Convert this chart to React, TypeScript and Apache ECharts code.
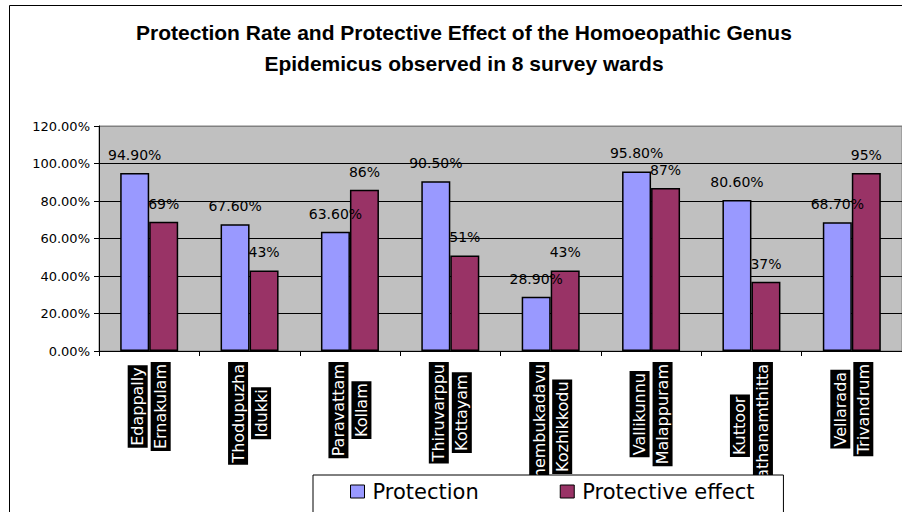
import React, { useEffect, useRef } from "react";
import * as echarts from "echarts";

const wards = ["Edappally", "Thodupuzha", "Paravattam", "Thiruvarppu", "Chembukadavu", "Vallikunnu", "Kuttoor", "Vellarada"];
const districts = ["Ernakulam", "Idukki", "Kollam", "Kottayam", "Kozhikkodu", "Malappuram", "Pathanamthitta", "Trivandrum"];
const protection = [94.9, 67.6, 63.6, 90.5, 28.9, 95.8, 80.6, 68.7];
const protectiveEffect = [69, 43, 86, 51, 43, 87, 37, 95];
const seriesNames = ["Protection", "Protective effect"];
const titleLines = [
  "Protection Rate and Protective Effect of the Homoeopathic Genus",
  "Epidemicus observed in 8 survey wards",
];
const yMin = 0;
const yMax = 120;
const yStep = 20;

export default function App() {
  const ref = useRef<HTMLDivElement>(null);
  useEffect(() => {
    if (!ref.current) return;
    const chart = echarts.init(ref.current, null, { renderer: "svg" });
    const categories = wards.map((w, i) => `${w}\n${districts[i]}`);
    const labelFont = "DejaVu Sans";
    chart.setOption({
      animation: false,
      backgroundColor: "#fff",
      title: {
        text: titleLines.join("\n"),
        left: 459,
        top: 12,
        textAlign: "center",
        textStyle: {
          fontFamily: "Liberation Sans",
          fontWeight: "bold",
          fontSize: 21,
          lineHeight: 31,
          color: "#000",
        },
      },
      graphic: [
        {
          type: "rect",
          shape: { x: 9.5, y: 5.5, width: 1200, height: 1200 },
          style: { fill: "none", stroke: "#000", lineWidth: 1 },
          z: -1,
          silent: true,
        },
      ],
      legend: {
        left: 313,
        top: 475,
        padding: [6, 29, 24, 37],
        itemGap: 81,
        itemWidth: 14,
        itemHeight: 13,
        backgroundColor: "#fff",
        borderColor: "#000",
        borderWidth: 1,
        borderRadius: 0,
        z: 10,
        itemStyle: { borderColor: "#000", borderWidth: 1 },
        textStyle: {
          fontFamily: labelFont,
          fontSize: 21,
          color: "#000",
          padding: [0, 0, 0, 3],
        },
        data: seriesNames.map((n) => ({ name: n, icon: "rect" })),
      },
      grid: {
        left: 99,
        top: 126,
        right: -2,
        bottom: 161,
        show: true,
        backgroundColor: "#C0C0C0",
        borderColor: "#808080",
        borderWidth: 1,
        containLabel: false,
      },
      xAxis: {
        type: "category",
        data: categories,
        boundaryGap: true,
        axisLine: { show: true, lineStyle: { color: "#000", width: 1 } },
        axisTick: { show: true, alignWithLabel: false, length: 5, lineStyle: { color: "#000" } },
        axisLabel: {
          interval: 0,
          rotate: 90,
          margin: 11,
          formatter: (v: string) =>
            v
              .split("\n")
              .map((s) => `{l|${s}}`)
              .join("\n"),
          rich: {
            l: {
              fontFamily: labelFont,
              fontSize: 16,
              color: "#fff",
              backgroundColor: "#000",
              height: 20,
              lineHeight: 23,
              padding: [0, 2],
              align: "center",
            },
          },
        },
      },
      yAxis: {
        type: "value",
        min: yMin,
        max: yMax,
        interval: yStep,
        axisLine: { show: true, lineStyle: { color: "#000", width: 1 } },
        axisTick: { show: true, length: 5, lineStyle: { color: "#000" } },
        axisLabel: {
          margin: 9,
          fontFamily: labelFont,
          fontSize: 13,
          color: "#000",
          formatter: (v: number) => `${v.toFixed(2)}%`,
        },
        splitLine: {
          show: true,
          lineStyle: {
            color: ["#000", "#000", "#000", "#000", "#000", "#000", "#808080"],
            width: 1,
          },
        },
      },
      series: [
        {
          name: seriesNames[0],
          type: "bar",
          data: protection,
          barWidth: 29,
          barGap: "0%",
          itemStyle: { color: "#9999FF", borderColor: "#000", borderWidth: 1.5 },
          label: {
            show: true,
            position: "top",
            distance: 11,
            fontFamily: labelFont,
            fontSize: 14,
            color: "#000",
            formatter: (p: any) => `${Number(p.value).toFixed(2)}%`,
          },
        },
        {
          name: seriesNames[1],
          type: "bar",
          data: protectiveEffect,
          barWidth: 29,
          barGap: "0%",
          itemStyle: { color: "#993366", borderColor: "#000", borderWidth: 1.5 },
          label: {
            show: true,
            position: "top",
            distance: 11,
            fontFamily: labelFont,
            fontSize: 14,
            color: "#000",
            formatter: (p: any) => `${p.value}%`,
          },
        },
      ],
    });
    return () => chart.dispose();
  }, []);
  return (
    <div
      ref={ref}
      style={{ position: "absolute", left: 0, top: 0, width: 902, height: 512 }}
    />
  );
}
